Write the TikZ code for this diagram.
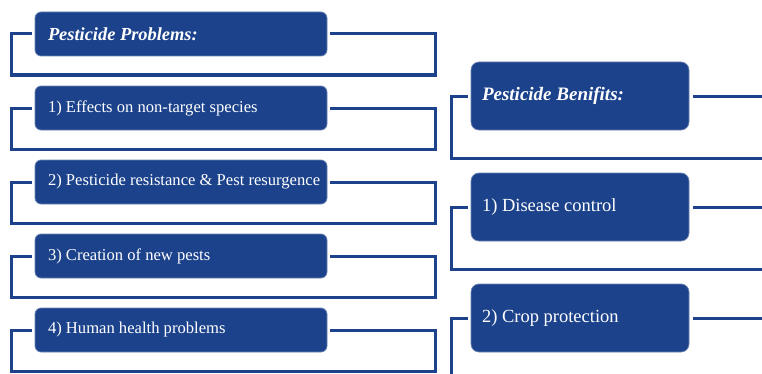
\documentclass[tikz,border=0pt]{standalone}
\usepackage{fontspec}
\setmainfont{Liberation Serif}
\definecolor{nb}{RGB}{27,66,138}
\newcommand{\lline}[1]{\makebox[266pt][l]{\raisebox{-1.5pt}{#1}}}
\newcommand{\rline}[1]{\makebox[196pt][l]{\raisebox{-2pt}{#1}}}
\begin{document}
\begin{tikzpicture}[x=1pt,y=1pt,
  lbox/.style={draw=nb!65!white, line width=0.7pt, fill=nb, rounded corners=6pt,
    minimum width=292pt, minimum height=44pt, inner xsep=13pt,
    text=white, font=\fontsize{16.6}{20}\selectfont},
  rbox/.style={draw=nb!65!white, line width=0.7pt, fill=nb, rounded corners=8pt,
    minimum width=218pt, minimum height=68pt, inner xsep=11pt,
    text=white, font=\fontsize{18.5}{22}\selectfont},
  conn/.style={draw=nb, line width=3pt}]
\clip (0,0) rectangle (762,373);
\fill[white] (0,0) rectangle (762,373);
% left column
\node[lbox,font=\fontsize{18.4}{22}\selectfont\bfseries\itshape] (p0) at (181,339) {\lline{Pesticide Problems:}};
\node[lbox] (p1) at (181,265) {\lline{1) Effects on non-target species}};
\node[lbox] (p2) at (181,191) {\lline{2) Pesticide resistance \& Pest resurgence}};
\node[lbox] (p3) at (181,117) {\lline{3) Creation of new pests}};
\node[lbox] (p4) at (181,43) {\lline{4) Human health problems}};
\foreach \b in {p0,p1,p2,p3,p4}{
  \draw[conn] ([xshift=-3pt]\b.west) -- ++(-20,0) -- ++(0,-41) -| ([xshift=108pt]\b.east) -- ([xshift=3pt]\b.east);
}
% right column
\node[rbox,font=\fontsize{19}{22}\selectfont\bfseries\itshape] (b0) at (580,277) {\rline{Pesticide Benifits:}};
\node[rbox] (b1) at (580,166) {\rline{1) Disease control}};
\node[rbox] (b2) at (580,55) {\rline{2) Crop protection}};
\foreach \b in {b0,b1}{
  \draw[conn] ([xshift=-3pt]\b.west) -- ++(-16,0) -- ++(0,-62) -- ++(400,0);
  \draw[conn] ([xshift=4pt]\b.east) -- ++(100,0);
}
\draw[conn] ([xshift=-3pt]b2.west) -- ++(-16,0) -- ++(0,-80);
\draw[conn] ([xshift=4pt]b2.east) -- ++(100,0);
\end{tikzpicture}
\end{document}
